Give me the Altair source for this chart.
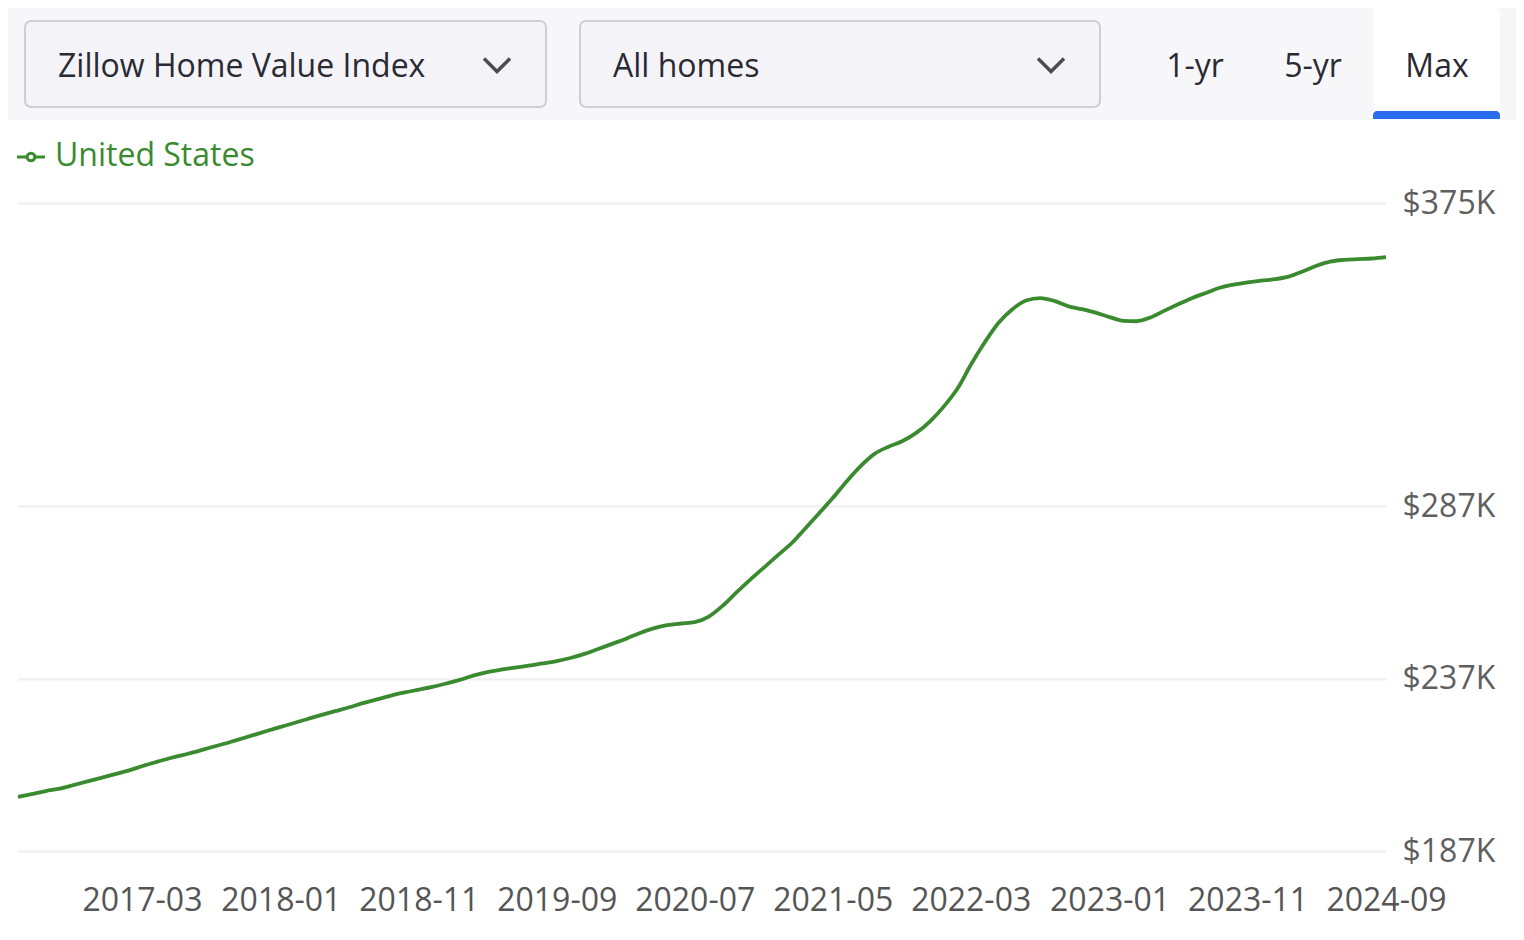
import altair as alt
import pandas as pd

# ---- data ----
start_month = "2016-06"
values_k = [
    202.7, 203.5, 204.4, 205.1, 206.1, 207.2, 208.2, 209.3, 210.4, 211.6,
    212.8, 213.9, 214.9, 215.9, 217.1, 218.2, 219.4, 220.6, 221.8, 223.0,
    224.2, 225.3, 226.5, 227.6, 228.7, 229.9, 231.0, 232.1, 233.0, 233.8,
    234.6, 235.6, 236.7, 237.9, 238.9, 239.6, 240.2, 240.8, 241.4, 242.1,
    243.0, 244.2, 245.6, 247.1, 248.6, 250.2, 251.6, 252.5, 253.0, 253.4,
    255.0, 258.2, 262.0, 265.8, 269.3, 272.9, 276.5, 280.5, 285.0, 289.4,
    294.3, 298.6, 302.2, 304.3, 305.9, 308.3, 311.6, 316.0, 321.4, 328.0,
    334.6, 340.2, 344.2, 346.7, 347.4, 346.6, 345.1, 344.2, 343.2, 341.9,
    340.8, 340.7, 341.8, 343.7, 345.6, 347.4, 348.9, 350.4, 351.3, 352.0,
    352.5, 352.9, 353.7, 355.1, 356.8, 358.0, 358.5, 358.7, 358.9, 359.3,
]
series_name = "United States"
y_ticks = [187, 237, 287, 375]
x_tick_labels = ["2017-03", "2018-01", "2018-11", "2019-09", "2020-07",
                 "2021-05", "2022-03", "2023-01", "2023-11", "2024-09"]
dropdown_labels = ["Zillow Home Value Index", "All homes"]
tab_labels = ["1-yr", "5-yr", "Max"]

months = pd.date_range(start_month + "-01", periods=len(values_k), freq="MS")
df = pd.DataFrame({
    "date": [d.strftime("%Y-%m-%dT00:00:00") for d in months],
    "value": values_k,
    "series": series_name,
})

FONT = "Open Sans"
GREEN = "#3a8a2f"
W, H = 1368, 648

x_vals = [alt.DateTime(year=int(s[:4]), month=int(s[5:]), date=1) for s in x_tick_labels]

line = alt.Chart(df).mark_line(
    color=GREEN, strokeWidth=3.8, interpolate="monotone", clip=False
).encode(
    x=alt.X("date:T",
            scale=alt.Scale(domain=[alt.DateTime(year=2016, month=6, date=1),
                                    alt.DateTime(year=2024, month=9, date=1)]),
            axis=alt.Axis(values=x_vals, format="%Y-%m", title=None, grid=False,
                          domain=False, ticks=False, tickSize=0, labelPadding=34,
                          labelFont=FONT, labelFontSize=32, labelColor="#555555",
                          labelOverlap=False, labelFlush=False)),
    y=alt.Y("value:Q",
            scale=alt.Scale(domain=[187, 375], nice=False, zero=False),
            axis=alt.Axis(orient="right", values=y_ticks, title=None,
                          labelExpr="'$' + datum.value + 'K'",
                          grid=True, gridColor="#eeeeee", gridWidth=2,
                          domain=False, ticks=False, tickSize=0, labelPadding=16,
                          labelFont=FONT, labelFontSize=32, labelColor="#5f5f5f")),
)

# ---- UI decorations (positions in plot-area pixels; plot origin at page (18,203)) ----
ui = pd.DataFrame({"k": [0]})
base = alt.Chart(ui)

def rect(x1, x2, y1, y2, **kw):
    return base.mark_rect(clip=False, **kw).encode(
        x=alt.value(x1), x2=alt.value(x2), y=alt.value(y1), y2=alt.value(y2))

def text(t, x, y, align="left", color="#2a2a33", size=32):
    return base.mark_text(text=t, align=align, baseline="middle", font=FONT,
                          fontSize=size, color=color, clip=False).encode(
        x=alt.value(x), y=alt.value(y))

bar_bg = rect(-10, 1498, -196, -83, color="#f7f7fa")
dd1 = rect(7, 528, -182, -96, fill="#f4f4f8", stroke="#cfcfd3", strokeWidth=2, cornerRadius=6)
dd2 = rect(562, 1082, -182, -96, fill="#f4f4f8", stroke="#cfcfd3", strokeWidth=2, cornerRadius=6)
max_tab = rect(1356, 1482, -196, -88, color="#ffffff", cornerRadiusTopRight=6)
blue = rect(1355, 1482, -92, -84, color="#2a6cf0", cornerRadiusTopLeft=6, cornerRadiusTopRight=6)

t1 = text(dropdown_labels[0], 40, -136)
t2 = text(dropdown_labels[1], 595, -136)
tab1 = text(tab_labels[0], 1177, -136, align="center")
tab2 = text(tab_labels[1], 1295, -136, align="center")
tab3 = text(tab_labels[2], 1419, -136, align="center")

chev_shape = "M -1 -0.5 L 0 0.5 L 1 -0.5"
chev = alt.Chart(pd.DataFrame({"cx": [479, 1033]})).mark_point(
    shape=chev_shape, filled=False, stroke="#4a4a4f", strokeWidth=3.5,
    size=676, opacity=1, clip=False
).encode(x=alt.X("cx:Q", scale=None), y=alt.value(-138))

# legend
leg_line = base.mark_rule(color=GREEN, strokeWidth=3, clip=False).encode(
    x=alt.value(-1), x2=alt.value(27), y=alt.value(-46))
leg_dot = base.mark_point(shape="circle", size=60, filled=True, fill="white",
                          stroke=GREEN, strokeWidth=3, opacity=1, clip=False).encode(
    x=alt.value(13), y=alt.value(-46))
leg_text = text(series_name, 37, -47, color=GREEN)

chart = alt.layer(
    bar_bg, dd1, dd2, max_tab, blue, t1, t2, tab1, tab2, tab3, chev,
    leg_line, leg_dot, leg_text, line,
).properties(
    width=W, height=H,
    background="white",
    autosize=alt.AutoSizeParams(type="none"),
    padding={"left": 10, "top": 195, "right": 130, "bottom": 80},
).configure_view(strokeWidth=0, stroke="transparent")

chart.save("out.html", embed_options={"renderer": "svg", "actions": False})
